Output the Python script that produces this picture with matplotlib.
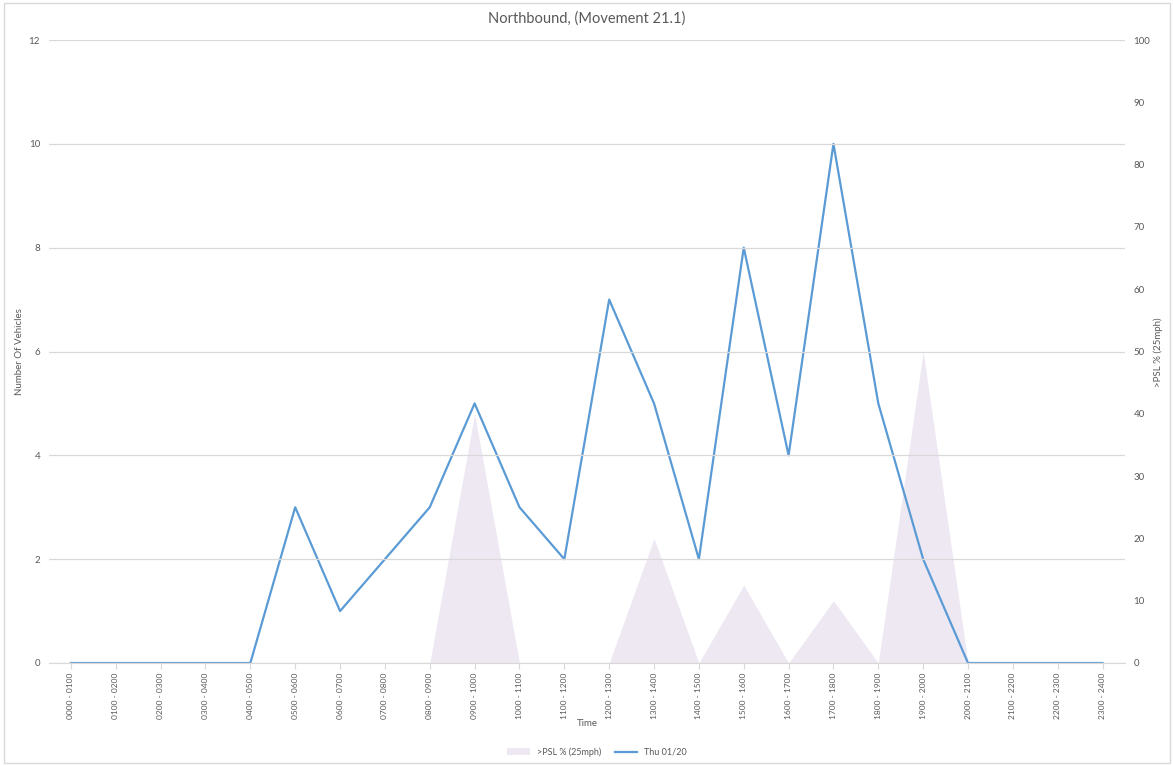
import matplotlib
matplotlib.use("Agg")
import matplotlib.pyplot as plt
from matplotlib.patches import Rectangle

categories = ["0000 - 0100", "0100 - 0200", "0200 - 0300", "0300 - 0400", "0400 - 0500",
              "0500 - 0600", "0600 - 0700", "0700 - 0800", "0800 - 0900", "0900 - 1000",
              "1000 - 1100", "1100 - 1200", "1200 - 1300", "1300 - 1400", "1400 - 1500",
              "1500 - 1600", "1600 - 1700", "1700 - 1800", "1800 - 1900", "1900 - 2000",
              "2000 - 2100", "2100 - 2200", "2200 - 2300", "2300 - 2400"]
vehicles = [0, 0, 0, 0, 0, 3, 1, 2, 3, 5, 3, 2, 7, 5, 2, 8, 4, 10, 5, 2, 0, 0, 0, 0]
psl_pct = [0, 0, 0, 0, 0, 0, 0, 0, 0, 40, 0, 0, 0, 20, 0, 12.5, 0, 10, 0, 50, 0, 0, 0, 0]

title = "Northbound, (Movement 21.1)"
line_label = "Thu 01/20"
area_label = ">PSL % (25mph)"

plt.rcParams['font.family'] = ['Lato', 'DejaVu Sans']
txt = "#595959"
grid = "#D9D9D9"

W, H = 1173, 766
fig = plt.figure(figsize=(W / 100, H / 100), dpi=100)
fig.patches.append(Rectangle((4 / W, 3 / H), 1166 / W, 760 / H, transform=fig.transFigure,
                             fill=False, edgecolor="#D9D9D9", linewidth=1))

rect = [48.5 / W, 1 - 663 / H, (1125 - 48.5) / W, (663 - 40) / H]
ax1 = fig.add_axes(rect)
ax2 = ax1.twinx()
ax1.set_zorder(2)
ax2.set_zorder(1)
ax1.patch.set_visible(False)

x = list(range(len(categories)))
ar = ax2.fill_between(x, psl_pct, 0, color="#EEE8F3", linewidth=0, label=area_label)
ln, = ax1.plot(x, vehicles, color="#5B9BD5", linewidth=1.6, label=line_label)

ax1.set_xlim(-0.5, len(categories) - 0.5)
ax1.set_ylim(0, 12)
ax2.set_ylim(0, 100)
ax1.set_yticks(range(0, 13, 2))
ax2.set_yticks(range(0, 101, 10))
ax1.set_xticks(x)
ax1.set_xticklabels(categories, rotation=90, fontsize=6, color=txt)
ax1.yaxis.grid(True, color=grid, linewidth=0.9)
ax1.set_axisbelow(False)

for ax in (ax1, ax2):
    for s in ax.spines.values():
        s.set_visible(False)
    ax.tick_params(axis='y', length=0, labelsize=7, labelcolor=txt, pad=6)
ax1.spines['bottom'].set_visible(True)
ax1.spines['bottom'].set_color(grid)
ax1.tick_params(axis='x', length=4, color=grid, pad=3)

fig.text(20 / W, 1 - 352 / H, "Number Of Vehicles", rotation=90, ha="center", va="center",
         fontsize=7, color=txt)
fig.text(1158 / W, 1 - 352 / H, area_label, rotation=90, ha="center", va="center",
         fontsize=7, color=txt)
fig.text(587 / W, 1 - 724 / H, "Time", ha="center", va="center", fontsize=7, color=txt)
fig.text(587 / W, 1 - 19 / H, title, ha="center", va="center", fontsize=10.5, color=txt)

fig.legend(handles=[ar, ln], loc="center", bbox_to_anchor=(597 / W, 1 - 752 / H), ncol=2,
           frameon=False, fontsize=6.5, labelcolor=txt, handlelength=2.5, columnspacing=1.5)

fig.savefig("out.png", dpi=100)
